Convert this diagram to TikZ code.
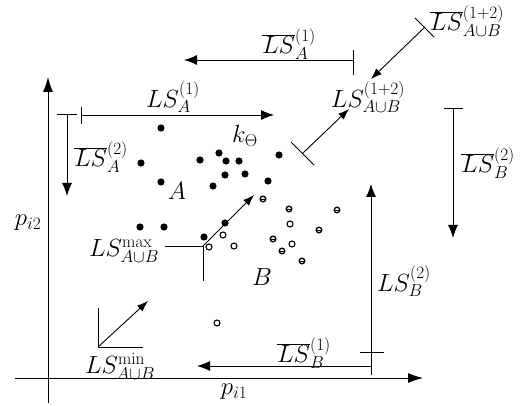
\documentclass[tikz,border=0pt]{standalone}
\usetikzlibrary{arrows.meta}
\DeclareMathSizes{24}{24}{17}{13}
\begin{document}
\begin{tikzpicture}[x=1pt,y=-1pt,
  lab/.style={inner sep=0pt,font=\fontsize{24}{28}\selectfont},
  conn/.style={line width=0.9pt},
  arr/.style={conn,-{Latex[length=13pt,width=10pt]}},
  sarr/.style={conn,-{Latex[length=11pt,width=8pt]}},
  tick/.style={conn},
  fdot/.style={fill=black,draw=none},
  odot/.style={draw=black,line width=1.1pt,fill=white},
  hdot/.style={draw=black,line width=1.3pt,fill=white}
]
\clip (0,0) rectangle (520,406);
\useasboundingbox (0,0) rectangle (520,406);

% axes
\coordinate (yb) at (48,403);
\coordinate (yt) at (48,77);
\coordinate (xl) at (15,378);
\coordinate (xr) at (423,378);
\draw[conn,-{Latex[length=15pt,width=10pt]}] (yb) -- (yt);
\draw[conn,-{Latex[length=15pt,width=10pt]}] (xl) -- (xr);
\node[lab] (pi2) at (28,223) {$p_{i2}$};
\node[lab] (pi1) at (234,392) {$p_{i1}$};

% LS_A^(1)
\coordinate (a1s) at (81,115);
\coordinate (a1e) at (274,115);
\draw[arr] (a1s) -- (a1e);
\draw[tick] (81,107) -- (81,124);
\node[lab] (la1) at (173,97) {$LS_A^{(1)}$};

% bar LS_A^(2)
\coordinate (a2s) at (67,114);
\coordinate (a2e) at (67,196);
\draw[arr] (a2s) -- (a2e);
\draw[tick] (57,114) -- (77,114);
\node[lab] (lba2) at (101,157) {$\overline{LS}_A^{(2)}$};

% bar LS_A^(1)
\coordinate (b1s) at (353,60);
\coordinate (b1e) at (184,60);
\draw[arr] (b1s) -- (b1e);
\draw[tick] (353,50) -- (353,75);
\node[lab] (lba1) at (289,44) {$\overline{LS}_A^{(1)}$};

% LS_{AuB}^{(1+2)}
\node[lab] (lab12) at (368,97) {$LS_{A\cup B}^{(1+2)}$};
\node[lab] (lbab12) at (467,21) {$\overline{LS}_{A\cup B}^{(1+2)}$};
\coordinate (t1) at (425,27);
\coordinate (t1e) at (371,79);
\draw[sarr] (t1) -- (t1e);
\draw[tick] (415,18) -- (434,37);
\coordinate (t2) at (303,153);
\coordinate (t2e) at (349,109);
\draw[sarr] (t2) -- (t2e);
\draw[tick] (291,142) -- (314,165);

% bar LS_B^(2)
\coordinate (bb2s) at (453,108);
\coordinate (bb2e) at (453,238);
\draw[arr] (bb2s) -- (bb2e);
\draw[tick] (444,108) -- (463,108);
\node[lab,anchor=west] (lbb2) at (461,163) {$\overline{LS}_B^{(2)}$};

% LS_B^(2)
\coordinate (b2s) at (371,375);
\coordinate (b2e) at (371,184);
\draw[arr] (b2s) -- (b2e);
\draw[tick] (360,352) -- (384,352);
\node[lab] (lb2) at (404,281) {$LS_B^{(2)}$};

% bar LS_B^(1)
\coordinate (bb1s) at (371,366);
\coordinate (bb1e) at (197,366);
\draw[arr] (bb1s) -- (bb1e);
\node[lab] (lbb1) at (304,353) {$\overline{LS}_B^{(1)}$};

% max corner and k arrow
\coordinate (mx) at (203,246);
\coordinate (kend) at (254,195);
\draw[tick] (165,246) -- (mx) -- (203,281);
\draw[sarr] (mx) -- (kend);
\node[lab] (lmax) at (124,251) {$LS_{A\cup B}^{\max}$};
\node[lab] (lk) at (245,136) {$k_{\Theta}$};

% min corner
\coordinate (mn) at (98,347);
\coordinate (mnend) at (148,301);
\draw[tick] (98,308) -- (mn) -- (143,347);
\draw[sarr] (mn) -- (mnend);
\node[lab] (lmin) at (120,366) {$LS_{A\cup B}^{\min}$};

% cluster labels
\node[lab] (A) at (177,191) {$A$};
\node[lab] (B) at (262,277) {$B$};

% filled points
\foreach \p in {(161,128),(141,163),(161,182),(200,160),(219,153),(226,161),(239,161),(225,175),(245,174),(213,186),(268,181),(279,155),(140,227),(164,227),(225,223),(204,237)}
  \fill[fdot] \p circle (3.6);
% open points
\foreach \p in {(223,235),(234,246),(209,247),(290,224),(292,244),(217,323)}
  \draw[odot] \p circle (3);
% marked points
\foreach \p in {(263,199),(289,209),(337,210),(319,230),(273,239),(282,251),(302,261)}
  {\draw[hdot] \p circle (2.8);
   \draw[line width=0.9pt] \p ++(-2.5,0) -- ++(5,0);}
\end{tikzpicture}
\end{document}
